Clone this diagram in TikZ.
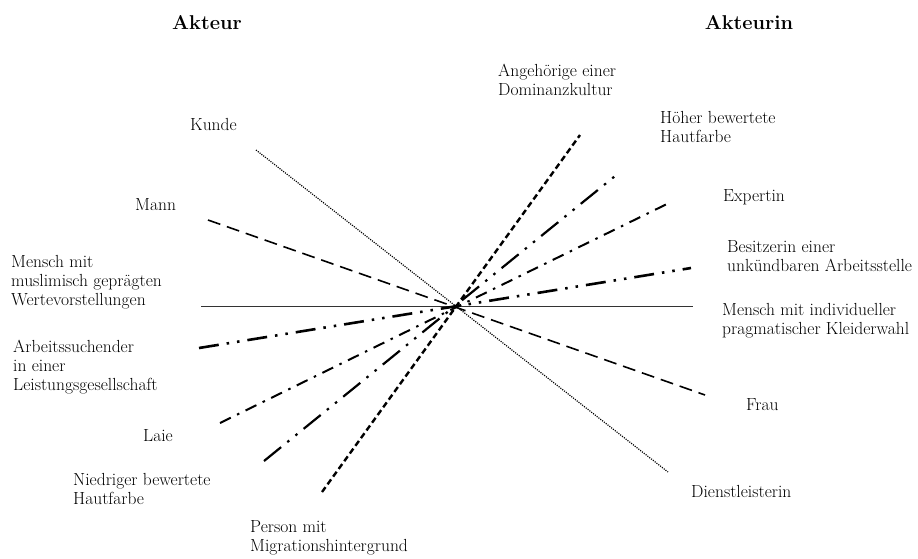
\documentclass[tikz,border=0pt]{standalone}
\usepackage{tikz}

\begin{document}
\begin{tikzpicture}[
x=1pt,y=-1pt,
lab/.style={
  font=\fontsize{17.5}{19}\selectfont,
  inner sep=0pt,
  align=left,
  anchor=base west
},
head/.style={
  font=\fontsize{20}{24}\selectfont\bfseries,
  inner sep=0pt,
  anchor=base
},
kun/.style={line width=1.2pt,dash pattern=on 1.1pt off 1.2pt},
man/.style={line width=1.6pt,dash pattern=on 13pt off 7pt},
sol/.style={line width=1pt,black!80},
arb/.style={line width=2.6pt,dash pattern=on 20pt off 8pt on 2.5pt off 8pt on 2.5pt off 8pt},
lai/.style={line width=2pt,dash pattern=on 12pt off 7pt on 2.5pt off 7pt},
nie/.style={line width=2.2pt,dash pattern=on 22pt off 8pt on 2.5pt off 8pt on 2.5pt off 8pt},
per/.style={line width=2.4pt,dash pattern=on 6pt off 3.5pt}
]
\useasboundingbox (0,0) rectangle (918,558);

% headings
\node[head] (akteur) at (207,29) {Akteur};
\node[head] (akteurin) at (749,29) {Akteurin};

% left side (base = last line)
\node[lab] (kunde) at (190,130) {Kunde};
\node[lab] (mann) at (135,210) {Mann};
\node[lab] (muslim) at (11,305) {Mensch mit\\muslimisch geprägten\\Wertevorstellungen};
\node[lab] (arbeit) at (13,390) {Arbeitssuchender\\in einer\\Leistungsgesellschaft};
\node[lab] (laie) at (143,441) {Laie};
\node[lab] (niedrig) at (73,504) {Niedriger bewertete\\Hautfarbe};
\node[lab] (migrant) at (250,551) {Person mit\\Migrationshintergrund};

% right side
\node[lab] (dominanz) at (498,95) {Angehörige einer\\Dominanzkultur};
\node[lab] (hoeher) at (660,142) {Höher bewertete\\Hautfarbe};
\node[lab] (expertin) at (723,201) {Expertin};
\node[lab] (besitz) at (727,271) {Besitzerin einer\\unkündbaren Arbeitsstelle};
\node[lab] (kleid) at (722,334) {Mensch mit individueller\\pragmatischer Kleiderwahl};
\node[lab] (frau) at (746,410) {Frau};
\node[lab] (dienst) at (691,497) {Dienstleisterin};

% line ends
\coordinate (kunde-e) at (256,150);
\coordinate (dienst-e) at (668,472);
\coordinate (mann-e) at (208,220);
\coordinate (frau-e) at (705,395);
\coordinate (muslim-e) at (201,306);
\coordinate (kleid-e) at (693,306);
\coordinate (arbeit-e) at (199,348);
\coordinate (besitz-e) at (691,268);
\coordinate (laie-e) at (220,423);
\coordinate (expertin-e) at (671,202);
\coordinate (niedrig-e) at (264,461);
\coordinate (hoeher-e) at (620,172);
\coordinate (migrant-e) at (322,492);
\coordinate (dominanz-e) at (580,135);

\draw[kun] (kunde-e) -- (dienst-e);
\draw[man] (mann-e) -- (frau-e);
\draw[sol] (muslim-e) -- (kleid-e);
\draw[arb] (arbeit-e) -- (besitz-e);
\draw[lai] (laie-e) -- (expertin-e);
\draw[nie] (niedrig-e) -- (hoeher-e);
\draw[per] (migrant-e) -- (dominanz-e);
\end{tikzpicture}
\end{document}
